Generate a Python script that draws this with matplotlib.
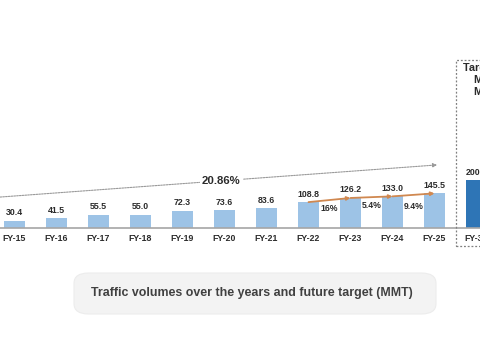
import matplotlib.pyplot as plt
from matplotlib.patches import Rectangle, FancyBboxPatch

plt.rcParams['font.family'] = ['Liberation Sans', 'DejaVu Sans']

# data
years = ['FY-15', 'FY-16', 'FY-17', 'FY-18', 'FY-19', 'FY-20', 'FY-21',
         'FY-22', 'FY-23', 'FY-24', 'FY-25', 'FY-30']
traffic = [30.4, 41.5, 55.5, 55.0, 72.3, 73.6, 83.6, 108.8, 126.2, 133.0, 145.5, 200.0]
growth_labels = ['16%', '5.4%', '9.4%']
growth_y = [80, 94, 92]
cagr_label = '20.86%'
box_lines = ['Target as per', 'Maritime India', 'MIV 2030']
caption = 'Traffic volumes over the years and future target (MMT)'

light_blue = '#9dc3e6'
dark_blue = '#2e75b6'
text_col = '#2b2b2b'

fig = plt.figure(figsize=(4.8, 3.45), dpi=100)
ax = fig.add_axes([0, 117 / 345, 1, 228 / 345])

x = list(range(len(years)))
colors = [light_blue] * (len(years) - 1) + [dark_blue]
bars = ax.bar(x, traffic, width=0.5, color=colors, zorder=2)

# value labels
for xi, v in zip(x, traffic):
    ax.annotate(f'{v:.1f}', (xi, v), xytext=(0, 2.5), textcoords='offset points',
                ha='center', va='bottom', fontsize=6.3, fontweight='bold',
                color=text_col, zorder=5)

ax.set_xlim(-0.345, 11.083)
ax.set_ylim(0, 958)
ax.set_xticks(x)
ax.set_xticklabels(years, fontsize=6.3, fontweight='bold', color=text_col)
ax.tick_params(axis='x', length=0, pad=4.5)
ax.set_yticks([])
for s in ['top', 'left', 'right']:
    ax.spines[s].set_visible(False)
ax.spines['bottom'].set_color('#a6a6a6')
ax.spines['bottom'].set_linewidth(1.2)

# yearly growth line FY-22..FY-25
for i in range(7, 10):
    ax.annotate('', xy=(i + 1, traffic[i + 1]), xytext=(i, traffic[i]),
                arrowprops=dict(arrowstyle='-|>', color='#d08850', lw=1.3,
                                mutation_scale=5, shrinkA=0, shrinkB=0),
                zorder=4)
for i, (lab, gy) in enumerate(zip(growth_labels, growth_y)):
    ax.text(7.5 + i, gy, lab, ha='center', va='center', fontsize=6.2,
            fontweight='bold', color=text_col, zorder=5)

# CAGR arrow
ax.annotate('', xy=(10.06, 265), xytext=(-0.345, 130),
            arrowprops=dict(arrowstyle='-|>', color='#999999', lw=0.8,
                            linestyle=(0, (1.5, 1)), mutation_scale=6,
                            shrinkA=0, shrinkB=0), zorder=3)
ax.text(4.92, 196, cagr_label, ha='center', va='center', fontsize=8.2,
        fontweight='bold', color=text_col, zorder=4,
        bbox=dict(facecolor='white', edgecolor='none', pad=1.5))

# dotted target box
fig.add_artist(Rectangle((456 / 480, 1 - 246 / 345), 0.2, (246 - 60) / 345,
                         transform=fig.transFigure, fill=False,
                         edgecolor='#7f7f7f', lw=0.9, linestyle=(0, (1.5, 1.5))))
for j, line in enumerate(box_lines):
    fig.text(463 / 480 if j == 0 else 474 / 480, 1 - (68 + 12 * j) / 345, line,
             ha='left', va='center', fontsize=7.8, fontweight='bold', color=text_col)

# caption box
fig.add_artist(FancyBboxPatch((74 / 480, 1 - 314 / 345), 362 / 480, 41 / 345,
                              boxstyle='round,pad=0,rounding_size=0.03',
                              transform=fig.transFigure, facecolor='#f3f3f3',
                              edgecolor='#ececec', lw=0.8))
fig.text(252 / 480, 1 - 293 / 345, caption, ha='center', va='center',
         fontsize=8.9, fontweight='bold', color='#404040')

fig.savefig('out.png', dpi=100)
